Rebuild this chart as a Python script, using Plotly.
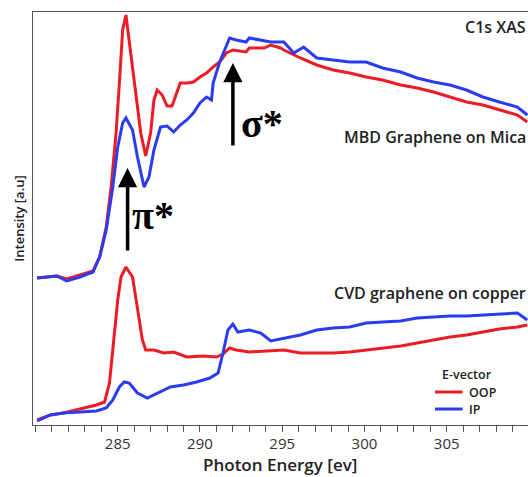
import plotly.graph_objects as go

# ---------------- data (photon energy in eV, intensity in arbitrary units) ----------------
mbd_oop_e = [280.1, 281.3, 281.9, 282.7, 283.5, 283.9, 284.3, 284.6, 284.9, 285.1, 285.3, 285.5,
             285.7, 286.1, 286.4, 286.7, 287.0, 287.2, 287.4, 287.7, 288.0, 288.3, 288.5, 288.8,
             289.2, 289.6, 290.0, 290.4, 290.8, 291.2, 291.6, 292.0, 292.8, 293.0, 293.9, 294.3,
             294.9, 295.1, 296.1, 297.1, 298.1, 299.1, 300.1, 301.1, 302.2, 303.2, 304.2, 305.2,
             306.2, 307.2, 308.2, 309.3, 309.9]
mbd_oop_i = [1.47, 1.49, 1.46, 1.50, 1.54, 1.68, 1.98, 2.38, 2.92, 3.42, 3.95, 4.10,
             3.85, 3.32, 2.92, 2.69, 2.92, 3.25, 3.35, 3.30, 3.19, 3.19, 3.28, 3.42,
             3.42, 3.43, 3.48, 3.52, 3.58, 3.63, 3.72, 3.75, 3.73, 3.77, 3.77, 3.80,
             3.77, 3.75, 3.67, 3.60, 3.55, 3.52, 3.48, 3.45, 3.40, 3.37, 3.33, 3.28,
             3.23, 3.20, 3.15, 3.10, 3.03]

mbd_ip_e = [280.1, 281.3, 281.9, 282.7, 283.5, 283.9, 284.3, 284.7, 285.0, 285.3, 285.5, 285.9,
            286.2, 286.6, 286.9, 287.2, 287.6, 288.0, 288.4, 288.8, 289.2, 289.6, 290.0, 290.4,
            290.7, 290.8, 291.2, 291.5, 291.8, 292.2, 292.8, 293.0, 294.3, 295.1, 295.7, 296.3,
            297.1, 298.1, 299.1, 300.1, 301.1, 302.2, 303.2, 304.2, 305.2, 306.2, 307.2, 308.2,
            309.3, 309.9]
mbd_ip_i = [1.47, 1.49, 1.44, 1.48, 1.53, 1.68, 1.95, 2.38, 2.78, 3.02, 3.07, 2.95,
            2.68, 2.38, 2.48, 2.75, 2.98, 2.99, 2.93, 3.00, 3.05, 3.12, 3.22, 3.28,
            3.25, 3.42, 3.63, 3.75, 3.87, 3.85, 3.83, 3.87, 3.83, 3.83, 3.72, 3.78,
            3.67, 3.65, 3.63, 3.63, 3.57, 3.53, 3.47, 3.43, 3.40, 3.35, 3.28, 3.23,
            3.18, 3.10]

cvd_oop_e = [280.1, 280.9, 281.7, 282.7, 283.7, 284.2, 284.5, 284.8, 285.0, 285.2, 285.5, 285.9,
             286.2, 286.5, 286.7, 287.2, 287.8, 288.4, 289.2, 290.2, 291.0, 291.4, 291.8, 292.2,
             293.0, 294.1, 295.1, 296.1, 297.1, 298.1, 299.1, 300.1, 301.1, 302.2, 303.2, 304.2,
             305.2, 306.2, 307.2, 308.2, 309.3, 309.9]
cvd_oop_i = [0.05, 0.10, 0.12, 0.16, 0.20, 0.23, 0.42, 0.92, 1.25, 1.48, 1.58, 1.48,
             1.18, 0.85, 0.75, 0.75, 0.72, 0.73, 0.68, 0.69, 0.68, 0.71, 0.77, 0.75,
             0.73, 0.74, 0.75, 0.72, 0.72, 0.72, 0.73, 0.75, 0.77, 0.79, 0.82, 0.85,
             0.88, 0.90, 0.93, 0.96, 0.98, 1.00]

cvd_ip_e = [280.1, 280.9, 281.7, 282.7, 283.7, 284.3, 284.7, 285.1, 285.4, 285.7, 286.2, 286.8,
            287.4, 288.2, 289.0, 289.8, 290.6, 291.1, 291.4, 291.7, 292.0, 292.3, 293.0, 293.7,
            294.3, 295.1, 296.1, 297.1, 298.1, 299.1, 300.1, 301.1, 302.2, 303.2, 304.2, 305.2,
            306.2, 307.2, 308.2, 309.3, 309.9]
cvd_ip_i = [0.04, 0.10, 0.12, 0.13, 0.14, 0.17, 0.25, 0.38, 0.43, 0.42, 0.32, 0.27,
            0.32, 0.38, 0.40, 0.43, 0.47, 0.52, 0.72, 0.95, 1.01, 0.93, 0.95, 0.92,
            0.84, 0.87, 0.90, 0.95, 0.97, 0.98, 1.02, 1.03, 1.04, 1.07, 1.08, 1.09,
            1.09, 1.10, 1.11, 1.12, 1.05]

# transitions marked with arrows: (label, energy, tail intensity, tip intensity)
pi_star = ("π*", 285.6, 1.73, 2.57)
sigma_star = ("σ*", 292.0, 2.78, 3.62)

legend_title = "E-vector"
legend_names = ["OOP", "IP"]

x_range = [279.85, 309.94]
y_range = [0, 4.13]
x_tick_vals = [285, 290, 295, 300, 305]

RED = "#ec1c24"
BLUE = "#2b3cf0"
SANS = "Open Sans"
TXT = "#222222"
colors = [RED, BLUE]

fig = go.Figure()
fig.add_trace(go.Scatter(x=mbd_oop_e, y=mbd_oop_i, mode="lines", name="OOP",
                         line=dict(color=RED, width=3)))
fig.add_trace(go.Scatter(x=cvd_oop_e, y=cvd_oop_i, mode="lines", name="OOP",
                         line=dict(color=RED, width=3)))
fig.add_trace(go.Scatter(x=mbd_ip_e, y=mbd_ip_i, mode="lines", name="IP",
                         line=dict(color=BLUE, width=3)))
fig.add_trace(go.Scatter(x=cvd_ip_e, y=cvd_ip_i, mode="lines", name="IP",
                         line=dict(color=BLUE, width=3)))

for label, e, y0, y1 in (pi_star, sigma_star):
    fig.add_annotation(x=e, y=y1, ax=e, ay=y0, xref="x", yref="y", axref="x", ayref="y",
                       text="", showarrow=True, arrowhead=2, arrowsize=1.1, arrowwidth=3.5,
                       arrowcolor="black")

fig.add_annotation(x=pi_star[1], y=2.10, xref="x", yref="y", text=pi_star[0],
                   showarrow=False, xanchor="left", xshift=2,
                   font=dict(family="Liberation Serif", size=40, color="black", weight="bold"))
fig.add_annotation(x=sigma_star[1], y=3.02, xref="x", yref="y", text=sigma_star[0],
                   showarrow=False, xanchor="left", xshift=6,
                   font=dict(family="Liberation Serif", size=40, color="black", weight="bold"))

label_font = dict(family=SANS, size=16, color=TXT, weight=600)
fig.add_annotation(x=1.0, y=0.964, xref="paper", yref="paper", text="C1s XAS",
                   showarrow=False, xanchor="right", yanchor="middle", font=label_font)
fig.add_annotation(x=1.0, y=0.697, xref="paper", yref="paper", text="MBD Graphene on Mica",
                   showarrow=False, xanchor="right", yanchor="middle", font=label_font)
fig.add_annotation(x=1.0, y=0.320, xref="paper", yref="paper", text="CVD graphene on copper",
                   showarrow=False, xanchor="right", yanchor="middle", font=label_font)

# x-axis title placed close under the tick labels, as in the reference
fig.add_annotation(x=0.499, y=-0.0945, xref="paper", yref="paper", text="Photon Energy [ev]",
                   showarrow=False, xanchor="center", yanchor="middle",
                   font=dict(family=SANS, size=17, color=TXT, weight=600))

# compact legend (E-vector)
leg_font = dict(family=SANS, size=12.5, color=TXT, weight=600)
fig.add_annotation(x=0.826, y=0.1211, xref="paper", yref="paper", text=legend_title,
                   showarrow=False, xanchor="left", yanchor="middle", xshift=-2, font=leg_font)
for k, (nm, col) in enumerate(zip(legend_names, colors)):
    yk = 0.0799 - k * 0.0412
    fig.add_shape(type="line", xref="paper", yref="paper", x0=0.812, x1=0.868, y0=yk, y1=yk,
                  line=dict(color=col, width=3))
    fig.add_annotation(x=0.881, y=yk, xref="paper", yref="paper", text=nm,
                       showarrow=False, xanchor="left", yanchor="middle", xshift=-2, font=leg_font)

fig.update_layout(
    width=528, height=477,
    margin=dict(l=33, r=0, t=12, b=52),
    paper_bgcolor="white", plot_bgcolor="white",
    showlegend=False,
    xaxis=dict(range=x_range, showgrid=False, zeroline=False,
               showline=True, linecolor="#555555", linewidth=1, mirror=True,
               ticks="outside", ticklen=6, tickwidth=1, tickcolor="#555555",
               tickvals=x_tick_vals, ticklabelstandoff=-1,
               minor=dict(dtick=1, ticks="outside", ticklen=6, tickwidth=1, tickcolor="#555555", showgrid=False),
               tickfont=dict(family=SANS, size=15, color="#333333")),
    yaxis=dict(range=y_range, showgrid=False, zeroline=False,
               showline=True, linecolor="#555555", linewidth=1,
               showticklabels=False, ticks="",
               title=dict(text="Intensity [a.u]", standoff=4,
                          font=dict(family=SANS, size=13, color=TXT, weight=600))),
)

fig.write_html("out.html", config={"displayModeBar": False},
               post_script="document.body.style.margin='0';")
